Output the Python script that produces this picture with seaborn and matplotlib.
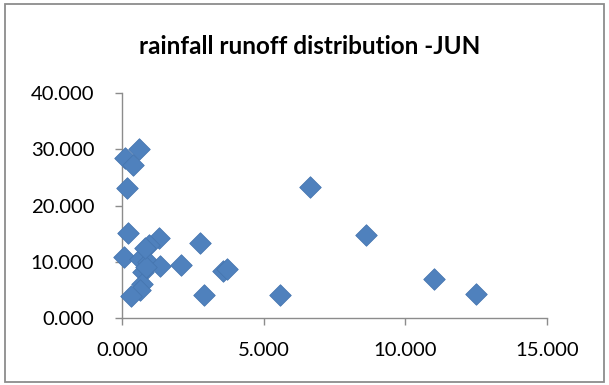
import matplotlib
matplotlib.use("Agg")
import matplotlib.pyplot as plt
from matplotlib.patches import Rectangle
from matplotlib.ticker import FormatStrFormatter, MultipleLocator
import seaborn as sns
import pandas as pd

# Rainfall (x) vs runoff (y) for June events
rainfall = [0.60, 0.12, 0.40, 0.18, 0.21, 1.30, 0.95, 2.75, 0.06, 0.65,
            0.90, 1.33, 2.07, 0.75, 3.55, 3.72, 0.70, 0.62, 0.30, 2.90,
            5.56, 6.62, 8.62, 11.00, 12.48, 0.85, 0.80]
runoff = [30.0, 28.4, 27.2, 23.2, 15.2, 14.3, 13.0, 13.4, 10.9, 10.5,
          10.0, 9.3, 9.4, 8.2, 8.3, 8.7, 6.0, 5.0, 4.0, 4.1,
          4.1, 23.3, 14.8, 7.0, 4.2, 9.0, 12.5]
title = "rainfall runoff distribution -JUN"

df = pd.DataFrame({"rainfall": rainfall, "runoff": runoff})

sns.set_theme(style="white")
plt.rcParams["font.family"] = ["Lato", "DejaVu Sans"]

W, H = 609, 385
fig = plt.figure(figsize=(W / 100, H / 100), dpi=100)
fig.patch.set_facecolor("white")

# outer chart-area frame
fig.patches.append(Rectangle((5 / W, 3 / H), 599 / W, 378 / H,
                             transform=fig.transFigure, fill=False,
                             edgecolor="#8c8c8c", linewidth=1.3))

ax = fig.add_axes([122 / W, 1 - 318 / H, 425 / W, 225 / H])
sns.scatterplot(data=df, x="rainfall", y="runoff", ax=ax, marker="D",
                s=120, color="#4F81BD", edgecolor="#4676B0", linewidth=0.6,
                zorder=3, clip_on=False)

ax.set_xlim(0, 15)
ax.set_ylim(0, 40)
ax.xaxis.set_major_locator(MultipleLocator(5))
ax.yaxis.set_major_locator(MultipleLocator(10))
ax.xaxis.set_major_formatter(FormatStrFormatter("%.3f"))
ax.yaxis.set_major_formatter(FormatStrFormatter("%.3f"))
ax.set_xlabel("")
ax.set_ylabel("")

for side in ("top", "right"):
    ax.spines[side].set_visible(False)
for side in ("left", "bottom"):
    ax.spines[side].set_color("#8c8c8c")
    ax.spines[side].set_linewidth(1.0)

ax.tick_params(axis="both", which="major", direction="out", length=5,
               width=1.0, color="#8c8c8c", labelsize=14.6, labelcolor="black",
               left=True, bottom=True)
ax.tick_params(axis="y", pad=15)
ax.tick_params(axis="x", pad=12)

fig.text(0.508, 1 - 46 / H, title, ha="center", va="center",
         fontsize=17.5, fontweight="bold", color="black")

fig.savefig("out.png", dpi=100, facecolor="white")
